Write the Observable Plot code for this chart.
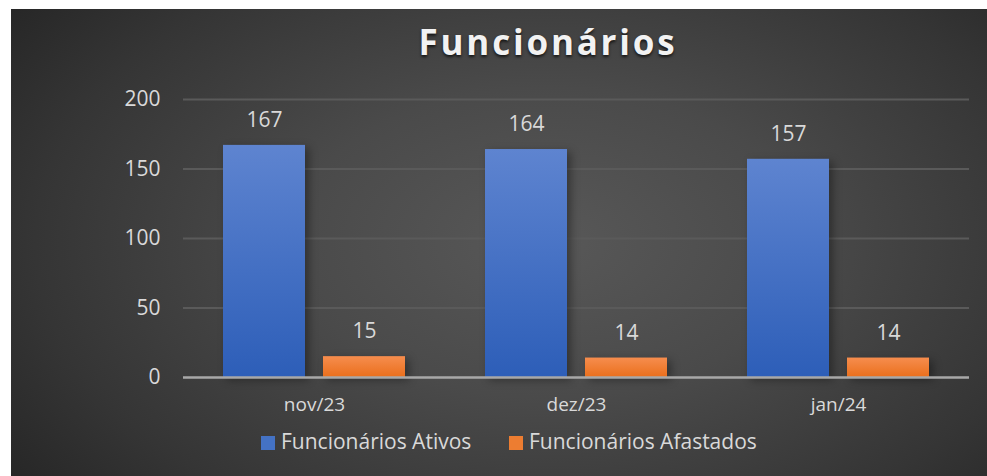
<!DOCTYPE html>
<html>
<head>
<meta charset="utf-8">
<script src="https://cdn.jsdelivr.net/npm/d3@7"></script>
<script src="https://cdn.jsdelivr.net/npm/@observablehq/plot@0.6"></script>
<style>
  html, body { margin: 0; padding: 0; background: #ffffff; }
  #chart {
    position: absolute; left: 11px; top: 9px; width: 976px; height: 467px;
    background: radial-gradient(ellipse 75% 95% at 55% 50%, #585858 0%, #4a4a4a 35%, #353535 70%, #202020 100%);
    font-family: "Open Sans", sans-serif; overflow: hidden;
  }
  #title {
    height: 71px; line-height: 66px; text-align: center; padding-left: 98px;
    color: #f2f2f2; font-weight: bold; font-size: 35px; letter-spacing: 2.8px;
    text-shadow: 0 2px 3px rgba(0,0,0,0.7);
  }
  #legend {
    height: 32px; line-height: 32px; position: relative; color: #d9d9d9; font-size: 21px;
  }
  #legend span.item { position: absolute; top: 0; white-space: nowrap; }
  #legend i { display: inline-block; width: 14px; height: 14px; margin-right: 6px; vertical-align: -1px; }
  svg g[aria-label="bar"] rect { filter: drop-shadow(4px 3px 4px rgba(0,0,0,0.35)); }
</style>
</head>
<body>
<div id="chart">
  <div id="title">Funcionários</div>
  <div id="plot"></div>
  <div id="legend"></div>
</div>
<script>
const months = ["nov/23", "dez/23", "jan/24"];
const seriesNames = ["Funcionários Ativos", "Funcionários Afastados"];
const ativos = [167, 164, 157];
const afastados = [15, 14, 14];
const yTicks = [0, 50, 100, 150, 200];
const seriesColors = ["#4472C4", "#ED7D31"];
const seriesGradients = ["url(#gBlue)", "url(#gOrange)"];

const data = [];
months.forEach((m, i) => {
  data.push({month: m, series: seriesNames[0], value: ativos[i], grad: seriesGradients[0]});
  data.push({month: m, series: seriesNames[1], value: afastados[i], grad: seriesGradients[1]});
});

const plot = Plot.plot({
  width: 976,
  height: 345,
  marginLeft: 172,
  marginRight: 18,
  marginTop: 19,
  marginBottom: 48,
  style: {background: "transparent", color: "#d9d9d9", fontFamily: "Open Sans, sans-serif", overflow: "visible"},
  fx: {domain: months, padding: 0, label: null, axis: null},
  x: {domain: seriesNames, paddingInner: 0.18, paddingOuter: 0.4, axis: null, label: null},
  y: {domain: [0, 200], ticks: yTicks, label: null, axis: null},
  color: {type: "identity"},
  marks: [
    Plot.gridY(yTicks.filter(d => d > 0), {stroke: "#5a5a5a", strokeOpacity: 1, strokeWidth: 2}),
    Plot.axisY(yTicks, {tickSize: 0, tickPadding: 23, fontSize: 21, fill: "#d9d9d9", label: null}),
    Plot.barY(data, {fx: "month", x: "series", y: "value", fill: "grad"}),
    Plot.text(data, {fx: "month", x: "series", y: "value", text: d => String(d.value), dy: -25, fontSize: 21, fill: "#d9d9d9"}),
    Plot.ruleY([0], {stroke: "#a8a8a8", strokeWidth: 2.5}),
    Plot.axisFx({anchor: "bottom", tickSize: 0, tickPadding: 20, fontSize: 19, fill: "#d9d9d9", label: null})
  ]
});

// gradients for bars
const svg = d3.select(plot);
const defs = svg.insert("defs", ":first-child");
const addGrad = (id, top, bottom) => {
  const g = defs.append("linearGradient").attr("id", id).attr("x1", 0).attr("y1", 0).attr("x2", 0).attr("y2", 1);
  g.append("stop").attr("offset", "0%").attr("stop-color", top);
  g.append("stop").attr("offset", "100%").attr("stop-color", bottom);
};
addGrad("gBlue", "#5e84d0", "#2d5eb8");
addGrad("gOrange", "#f68d4e", "#ea6f1c");

document.getElementById("plot").appendChild(plot);

// legend
const legend = document.getElementById("legend");
const legendLeft = [250, 498];
seriesNames.forEach((name, i) => {
  const s = document.createElement("span");
  s.className = "item";
  s.style.left = legendLeft[i] + "px";
  s.innerHTML = `<i style="background:${seriesColors[i]}"></i>${name}`;
  legend.appendChild(s);
});
</script>
</body>
</html>
